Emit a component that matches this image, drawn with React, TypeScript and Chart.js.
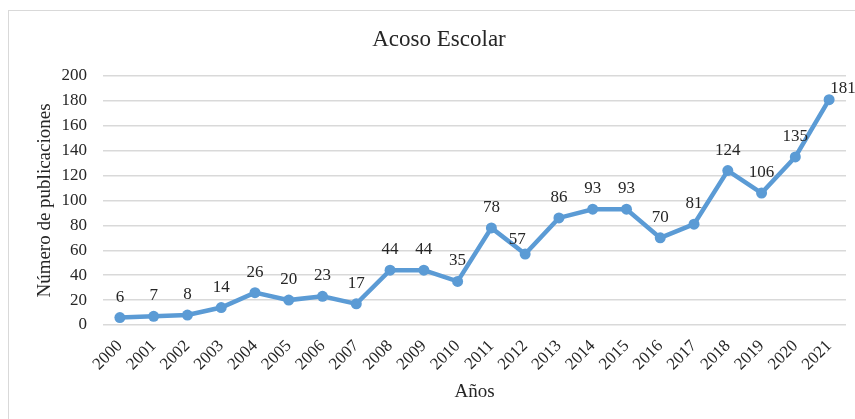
import React, { useEffect, useRef } from "react";
import { Chart, registerables } from "chart.js";

Chart.register(...registerables);

const years = [
  "2000", "2001", "2002", "2003", "2004", "2005", "2006", "2007", "2008", "2009", "2010",
  "2011", "2012", "2013", "2014", "2015", "2016", "2017", "2018", "2019", "2020", "2021",
];
const publications = [6, 7, 8, 14, 26, 20, 23, 17, 44, 44, 35, 78, 57, 86, 93, 93, 70, 81, 124, 106, 135, 181];
const yTicks = [0, 20, 40, 60, 80, 100, 120, 140, 160, 180, 200];

const chartTitle = "Acoso Escolar";
const yTitle = "Número de publicaciones";
const xTitle = "Años";

const SERIF = "'Liberation Serif', 'Times New Roman', serif";
const LINE = "#5B9BD5";
const GRID = "#d9d9d9";
const TEXT = "#262626";

// Label nudges (dx, dy in px) for a couple of crowded points
const labelNudge: Record<number, [number, number]> = {
  12: [-8, 6],
  21: [14, 9],
};

const valueLabels = {
  id: "valueLabels",
  afterDraw(chart: any) {
    const { ctx } = chart;
    const meta = chart.getDatasetMeta(0);
    const data = chart.data.datasets[0].data as number[];
    ctx.save();
    ctx.font = `17px ${SERIF}`;
    ctx.fillStyle = TEXT;
    ctx.textAlign = "center";
    ctx.textBaseline = "alphabetic";
    meta.data.forEach((pt: any, i: number) => {
      const [dx, dy] = labelNudge[i] || [0, 0];
      ctx.fillText(String(data[i]), pt.x + dx, pt.y - 16 + dy);
    });
    ctx.restore();
  },
};

const titleDraw = {
  id: "titleDraw",
  afterDraw(chart: any) {
    const { ctx } = chart;
    ctx.save();
    ctx.font = `23px ${SERIF}`;
    ctx.fillStyle = TEXT;
    ctx.textAlign = "center";
    ctx.textBaseline = "middle";
    ctx.fillText(chartTitle, 430, 29);
    ctx.restore();
  },
};

export default function App() {
  const ref = useRef<HTMLCanvasElement>(null);

  useEffect(() => {
    const chart = new Chart(ref.current!, {
      type: "line",
      data: {
        labels: years,
        datasets: [
          {
            data: publications,
            borderColor: LINE,
            backgroundColor: LINE,
            borderWidth: 4.5,
            pointRadius: 5.5,
            pointBackgroundColor: LINE,
            pointBorderColor: LINE,
            pointBorderWidth: 0,
            tension: 0,
          },
        ],
      },
      options: {
        responsive: false,
        animation: false,
        devicePixelRatio: 1,
        layout: { padding: { top: 65, right: 9, left: 0, bottom: 0 } },
        plugins: {
          legend: { display: false },
          title: { display: false },
          tooltip: { enabled: false },
        },
        scales: {
          x: {
            offset: true,
            grid: { display: false, drawTicks: false },
            border: { display: false },
            ticks: {
              autoSkip: false,
              minRotation: 45,
              maxRotation: 45,
              padding: 11,
              color: TEXT,
              font: { family: SERIF, size: 17 },
            },
            title: {
              display: true,
              text: xTitle,
              color: TEXT,
              font: { family: SERIF, size: 19 },
              padding: { top: 0, bottom: 16 },
            },
            afterFit(scale: any) {
              scale.height = 94;
            },
          },
          y: {
            min: 0,
            max: 200,
            afterBuildTicks(scale: any) {
              scale.ticks = yTicks.map((v) => ({ value: v }));
            },
            grid: { color: GRID, lineWidth: 1.5, drawTicks: false },
            border: { display: false },
            ticks: {
              padding: 16,
              color: TEXT,
              font: { family: SERIF, size: 17 },
            },
            title: {
              display: true,
              text: yTitle,
              color: TEXT,
              font: { family: SERIF, size: 19 },
              padding: { top: 25, bottom: 0 },
            },
            afterFit(scale: any) {
              scale.width = 94;
            },
          },
        },
      },
      plugins: [valueLabels, titleDraw],
    });
    return () => chart.destroy();
  }, []);

  return (
    <div
      style={{
        position: "fixed",
        left: 0,
        top: 0,
        width: 855,
        height: 419,
        overflow: "hidden",
        background: "#fff",
      }}
    >
      <div
        style={{
          position: "absolute",
          left: 8,
          top: 10,
          width: 900,
          height: 500,
          border: "1px solid #d9d9d9",
          boxSizing: "border-box",
        }}
      />
      <canvas
        ref={ref}
        width={846}
        height={408}
        style={{ position: "absolute", left: 9, top: 11 }}
      />
    </div>
  );
}
